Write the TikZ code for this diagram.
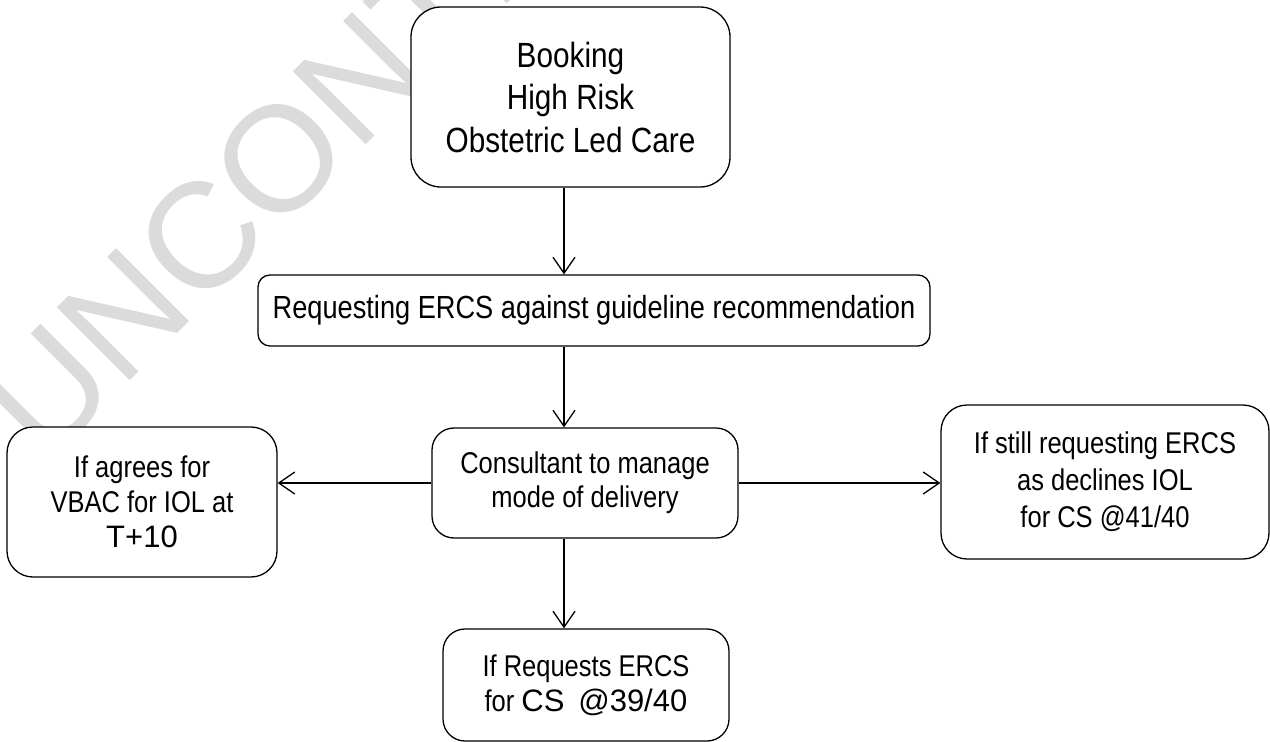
\documentclass[tikz,border=0pt]{standalone}
\usepackage{fontspec}
\setmainfont[FakeStretch=0.85]{Liberation Sans}
\newfontfamily\widefont{Liberation Sans}
\usetikzlibrary{arrows.meta}

\begin{document}
\begin{tikzpicture}[x=1pt,y=-1pt,
  box/.style={draw, line width=1.3pt, fill=white, rounded corners=#1,
    align=center, inner sep=0pt, font=\fontsize{30}{35}\selectfont},
  box/.default=22pt,
  flow/.style={line width=1.3pt,
    -{Straight Barb[length=16pt,width=22pt,line width=1.3pt]}}]
  \useasboundingbox (0,0) rectangle (1270,742);
 % watermark
  \node[rotate=45, anchor=base west, inner sep=0pt, text=black!14,
    font=\widefont\fontsize{150}{150}\selectfont] (stamp) at (45,466) {UNCONTROLLED};
  \coordinate (spine) at (564,0);
 % boxes
  \node[box=30pt, minimum width=319pt, minimum height=180pt,
    font=\fontsize{35}{42.5}\selectfont] (booking) at (570.5,97)
    {Booking\\High Risk\\Obstetric Led Care};
  \node[box=12pt, minimum width=672pt, minimum height=71pt,
    font=\fontsize{32}{36}\selectfont] (request) at (594,310.5)
    {Requesting ERCS against guideline recommendation};
  \node[box, minimum width=306pt, minimum height=110pt, font=\fontsize{30}{34}\selectfont]
    (consult) at (585,483) {Consultant to manage\\mode of delivery};
  \node[box=26pt, minimum width=270pt, minimum height=150pt] (agree) at (142,502)
    {If agrees for\\VBAC for IOL at\\{\widefont\fontsize{31}{35}\selectfont T+10}};
  \node[box=26pt, minimum width=328pt, minimum height=154pt,
    font=\fontsize{30}{37}\selectfont] (still) at (1105,482)
    {If still requesting ERCS\\as declines IOL\\for CS @41/40};
  \node[box, minimum width=286pt, minimum height=112pt] (cs) at (586,685)
    {If Requests ERCS\\for {\widefont\fontsize{31}{35}\selectfont CS \,@39/40}};
 % connectors
  \draw[flow] (booking.south -| spine) -- (request.north -| spine);
  \draw[flow] (request.south -| spine) -- (consult.north -| spine);
  \draw[flow] (consult.south -| spine) -- (cs.north -| spine);
  \draw[flow] (consult.west) -- (consult.west -| agree.east);
  \draw[flow] (consult.east) -- (consult.east -| still.west);
\end{tikzpicture}
\end{document}
